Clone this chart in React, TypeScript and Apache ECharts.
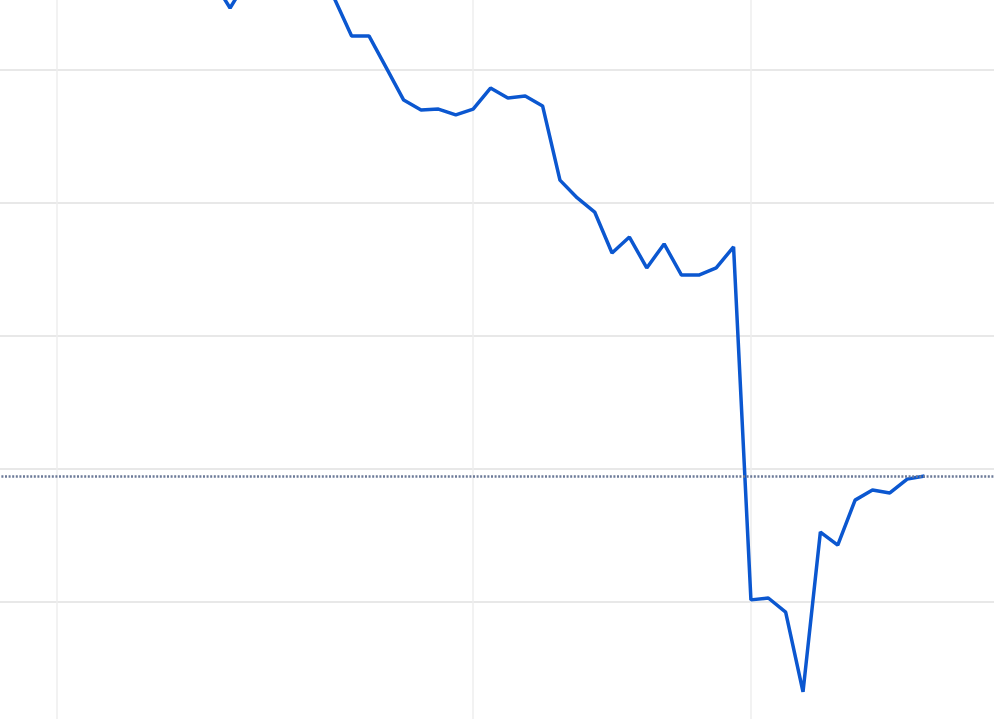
import React, { useEffect, useRef } from 'react';
import * as echarts from 'echarts';

// intraday times, 5 minute steps
const times: string[] = [];
for (let i = 0; i < 59; i++) {
  const m = 9 * 60 + 30 + i * 5;
  times.push(`${Math.floor(m / 60)}:${String(m % 60).padStart(2, '0')}`);
}

// price (null = no data at that time)
const prices: (number | null)[] = [
  null, null, null, null, null, null, null, null, null, null, null, null, null,
  163.38, 162.33, 163.4, 164.1, 163.75, 164.5, 163.95, 162.7,
  161.28, 161.28, 160.08, 158.87, 158.5, 158.53, 158.31, 158.53, 159.32, 158.95,
  159.02, 158.65, 155.86, 155.19, 154.66, 153.12, 153.72, 152.56, 153.46, 152.29,
  152.29, 152.56, 153.35, 140.08, 140.15, 139.62, 136.62, 142.63, 142.14, 143.83,
  144.21, 144.1, 144.62, 144.74,
  null, null, null, null,
];

const previousClose = 144.72;

// times where a vertical grid line is drawn
const splitTimes = ['9:50', '11:50', '13:10'];

const PriceChart: React.FC = () => {
  const chartRef = useRef<HTMLDivElement>(null);

  useEffect(() => {
    if (!chartRef.current) return;
    const myChart = echarts.init(chartRef.current, undefined, { renderer: 'svg' });
    const option = {
      animation: false,
      backgroundColor: '#ffffff',
      grid: { left: 0, right: 0, top: 0, bottom: 0, containLabel: false },
      xAxis: {
        type: 'category',
        data: times,
        boundaryGap: false,
        axisLine: { show: false },
        axisTick: { show: false },
        axisLabel: { show: false },
        splitLine: {
          show: true,
          interval: (index: number, value: string) => splitTimes.includes(value),
          lineStyle: { color: '#eeeeee', width: 1.5 },
        },
      },
      yAxis: {
        type: 'value',
        min: 135,
        max: 165,
        interval: 5,
        axisLine: { show: false },
        axisTick: { show: false },
        axisLabel: { show: false },
        splitLine: { lineStyle: { color: '#e0e0e0', width: 1.5 } },
      },
      series: [
        {
          type: 'line',
          data: prices,
          symbol: 'none',
          connectNulls: false,
          lineStyle: { color: '#0b57d0', width: 3.5 },
          markLine: {
            silent: true,
            symbol: 'none',
            label: { show: false },
            lineStyle: { color: '#6c7a98', width: 2.5, type: [2, 1.6] },
            data: [{ yAxis: previousClose }],
          },
        },
      ],
    };
    myChart.setOption(option);
    return () => {
      myChart.dispose();
    };
  }, []);

  // the visible window is a crop of a larger chart
  return (
    <div style={{ position: 'fixed', left: 0, top: 0, width: '994px', height: '719px', overflow: 'hidden', background: '#fff' }}>
      <div
        ref={chartRef}
        style={{ position: 'absolute', left: '-13px', top: '-63px', width: '1007px', height: '798px' }}
      />
    </div>
  );
};

export default function App() {
  return <PriceChart />;
}
